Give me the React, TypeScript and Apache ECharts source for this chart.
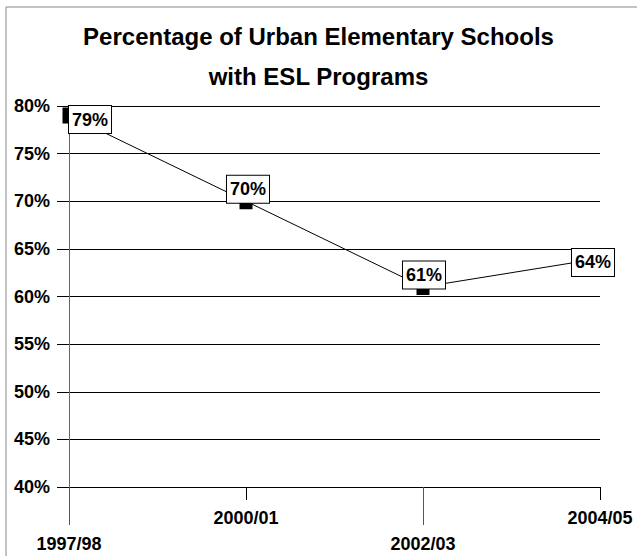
import React, { useEffect, useRef } from "react";
import * as echarts from "echarts";

const TITLE = "Percentage of Urban Elementary Schools\nwith ESL Programs";
const CATEGORIES = ["1997/98", "2000/01", "2002/03", "2004/05"];
const VALUES = [79, 70, 61, 64];
const Y_MIN = 40;
const Y_MAX = 80;
const Y_STEP = 5;

const FONT = "'Liberation Sans', Arial, Helvetica, sans-serif";
// label placement per point (as Excel nudged them)
const LABEL_OFFSETS: [number, number][] = [
  [21, 4],
  [2, -12],
  [1, -12],
  [-7, 4],
];

export default function App() {
  const ref = useRef<HTMLDivElement>(null);
  useEffect(() => {
    if (!ref.current) return;
    const chart = echarts.init(ref.current, null, { renderer: "svg" });
    const data = VALUES.map((v, i) => ({
      value: v,
      label: { offset: LABEL_OFFSETS[i] },
    }));
    chart.setOption({
      animation: false,
      backgroundColor: "#fff",
      textStyle: { fontFamily: FONT },
      title: {
        text: TITLE,
        left: "center",
        top: 11,
        textStyle: {
          fontFamily: FONT,
          fontSize: 24,
          fontWeight: "bold",
          color: "#000",
          lineHeight: 40,
        },
      },
      graphic: [
        {
          type: "rect",
          shape: { x: 6, y: 7, width: 700, height: 700 },
          style: { fill: "none", stroke: "#888", lineWidth: 1 },
          silent: true,
          z: -1,
        },
      ],
      grid: { left: 69, right: 37, top: 106, bottom: 69, containLabel: false },
      xAxis: [
        {
          type: "category",
          data: CATEGORIES,
          boundaryGap: false,
          position: "bottom",
          axisLine: { show: true, lineStyle: { color: "#000", width: 1 } },
          axisTick: {
            show: true,
            interval: (i: number) => i % 2 === 1,
            length: 13,
            lineStyle: { color: "#000" },
          },
          axisLabel: {
            interval: (i: number) => i % 2 === 1,
            margin: 22,
            fontSize: 18,
            fontWeight: "bold",
            color: "#000",
            fontFamily: FONT,
          },
          splitLine: { show: false },
        },
        {
          type: "category",
          data: CATEGORIES,
          boundaryGap: false,
          position: "bottom",
          axisLine: { show: false },
          axisTick: {
            show: true,
            interval: (i: number) => i % 2 === 0,
            length: 38,
            lineStyle: { color: "#555" },
          },
          axisLabel: {
            interval: (i: number) => i % 2 === 0,
            margin: 48,
            fontSize: 18,
            fontWeight: "bold",
            color: "#000",
            fontFamily: FONT,
          },
          splitLine: { show: false },
        },
      ],
      yAxis: {
        type: "value",
        min: Y_MIN,
        max: Y_MAX,
        interval: Y_STEP,
        axisLine: { show: true, lineStyle: { color: "#666", width: 1 } },
        axisTick: { show: true, length: 12, lineStyle: { color: "#000" } },
        axisLabel: {
          formatter: "{value}%",
          margin: 19,
          fontSize: 18,
          fontWeight: "bold",
          color: "#000",
          fontFamily: FONT,
        },
        splitLine: { show: true, lineStyle: { color: "#000", width: 1 } },
      },
      series: [
        {
          type: "line",
          xAxisIndex: 0,
          data,
          symbol: "rect",
          symbolSize: [13, 16],
          itemStyle: { color: "#000" },
          lineStyle: { color: "#000", width: 1 },
          label: {
            show: true,
            position: "inside",
            formatter: "{c}%",
            fontSize: 18,
            fontWeight: "bold",
            color: "#000",
            fontFamily: FONT,
            backgroundColor: "#fff",
            borderColor: "#000",
            borderWidth: 1,
            padding: [4, 3, 3, 3],
            lineHeight: 20,
          },
        },
      ],
    });
    return () => chart.dispose();
  }, []);
  return (
    <div
      ref={ref}
      style={{ position: "absolute", left: 0, top: 0, width: 637, height: 556 }}
    />
  );
}
